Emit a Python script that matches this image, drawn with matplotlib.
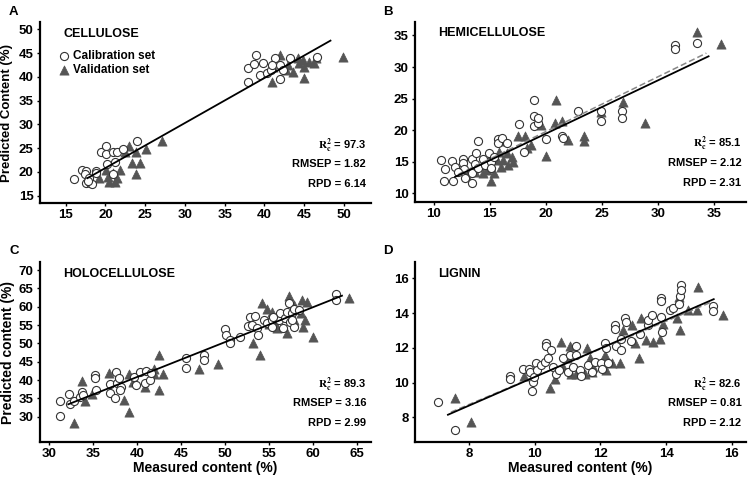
import matplotlib
matplotlib.use('Agg')
import matplotlib.pyplot as plt

plt.rcParams['font.family'] = ['Liberation Sans', 'DejaVu Sans']
plt.rcParams['font.weight'] = 'bold'
plt.rcParams['mathtext.fontset'] = 'stix'

# A - cellulose
cel_cal_x = [16.05, 17.0, 17.5, 17.4, 17.5, 18.1, 18.3, 17.9, 18.8, 19.4, 20.1, 20.1, 20.9, 21.4, 22.2,
             24.0, 20.2, 21.2, 20.9, 18.8, 17.8,
             37.9, 37.9, 38.9, 38.7, 39.8, 39.5, 40.3, 40.8, 41.3, 41.9, 42.0, 43.2, 42.3, 46.6, 41.0]
cel_cal_y = [18.5, 20.4, 20.3, 19.5, 17.6, 17.7, 17.4, 18.7, 20.1, 24.1, 25.5, 23.8, 24.1, 24.1, 24.8,
             26.4, 21.7, 22.0, 19.5, 19.7, 18.0,
             38.8, 41.9, 44.6, 42.6, 42.8, 40.4, 40.7, 41.4, 43.9, 42.5, 39.5, 43.9, 41.4, 44.2, 42.5]
cel_val_x = [19.2, 20.3, 20.4, 21.2, 21.0, 21.8, 23.3, 24.4, 23.9, 23.0, 22.5, 23.9, 25.1, 27.1, 20.1, 21.4,
             41.0, 41.1, 42.0, 42.7, 43.6, 43.0, 44.2, 44.8, 45.0, 45.0, 45.6, 46.2, 46.5, 49.9, 44.4]
cel_val_y = [18.7, 19.0, 17.8, 17.8, 19.7, 20.4, 21.8, 21.8, 19.6, 25.5, 24.2, 24.2, 24.9, 26.4, 20.4, 18.7,
             39.0, 42.1, 44.6, 41.4, 41.1, 42.5, 43.9, 43.5, 42.1, 39.7, 43.2, 42.8, 44.0, 44.2, 42.8]
cel_fit_x = [17.75, 48.3]
cel_fit_y = [18.7, 47.6]

# B - hemicellulose
hem_cal_x = [10.6, 11.0, 10.9, 11.6, 11.7, 11.9, 12.6, 12.6, 12.7, 12.8, 13.4, 13.4, 13.4, 13.7, 13.8,
             13.9, 13.9, 14.4, 14.6, 14.9, 15.1, 15.7, 15.7, 16.1, 16.5, 17.6, 18.0, 18.9, 18.9, 18.9,
             19.3, 19.3, 20.0, 21.4, 21.5, 22.9, 24.9, 24.9, 26.8, 26.8, 31.5, 31.5, 33.5, 15.1, 12.2, 15.4]
hem_cal_y = [15.3, 13.8, 12.0, 15.1, 12.0, 14.1, 15.5, 14.8, 13.8, 12.4, 15.5, 13.2, 11.6, 14.6, 16.3,
             18.2, 14.0, 15.5, 14.5, 16.3, 15.0, 18.6, 17.9, 18.7, 18.0, 21.0, 16.6, 24.8, 22.2, 20.6,
             21.1, 21.9, 18.6, 19.1, 18.7, 23.1, 23.0, 21.5, 23.0, 21.9, 33.5, 32.8, 33.8, 14.0, 13.4, 15.8]
hem_val_x = [13.0, 13.7, 14.4, 14.6, 14.7, 15.1, 15.4, 15.6, 15.8, 15.9, 16.0, 16.2, 16.6, 17.0, 17.1,
             17.5, 18.1, 18.3, 18.7, 19.6, 20.0, 20.8, 20.9, 21.4, 22.0, 23.4, 23.4, 24.9, 26.9, 28.8,
             33.5, 35.6, 15.0, 16.5]
hem_val_y = [12.8, 13.4, 13.2, 14.5, 13.7, 11.9, 13.2, 15.3, 16.6, 18.3, 14.2, 15.3, 14.5, 15.8, 15.0,
             19.0, 19.0, 17.1, 17.7, 20.8, 15.9, 21.1, 24.8, 21.4, 18.5, 19.0, 18.2, 22.9, 24.5, 21.2,
             35.6, 33.7, 15.8, 16.3]
hem_fit_x = [11.9, 34.5]
hem_fit_y = [12.6, 31.7]
hem_fit2_x = [12.2, 34.3]
hem_fit2_y = [13.0, 32.2]

# C - holocellulose
hol_cal_x = [31.3, 31.3, 32.3, 32.4, 32.8, 33.5, 33.8, 33.9, 35.2, 35.2, 35.4, 36.9, 36.9, 37.5, 37.6,
             37.7, 38.0, 38.2, 38.1, 39.7, 39.9, 40.4, 41.0, 40.9, 41.5, 41.6, 45.6, 45.6, 47.6, 47.6,
             50.0, 50.1, 50.6, 50.6, 51.7, 52.6, 52.8, 53.1, 53.4, 53.6, 53.8, 54.4, 54.8, 55.3, 55.4,
             56.1, 56.3, 56.6, 56.8, 57.0, 57.3, 57.4, 57.6, 57.8, 57.9, 58.4, 62.6, 62.6, 57.6, 55.5]
hol_cal_y = [34.3, 30.3, 36.2, 33.6, 34.4, 35.5, 36.8, 35.9, 41.4, 40.5, 37.3, 38.9, 36.5, 35.0, 42.3,
             39.1, 40.5, 38.2, 37.3, 40.9, 38.6, 42.3, 42.5, 39.1, 40.0, 41.8, 45.9, 43.2, 46.8, 45.6,
             53.8, 52.3, 50.9, 50.0, 51.8, 54.7, 57.3, 55.0, 57.5, 54.1, 52.3, 56.5, 55.6, 56.5, 54.5,
             56.4, 58.2, 54.1, 56.8, 58.6, 60.9, 55.9, 58.2, 59.5, 54.5, 59.1, 63.5, 61.8, 56.5, 57.3]
hol_val_x = [32.8, 33.8, 34.1, 34.9, 36.8, 38.5, 39.1, 39.1, 39.6, 40.9, 41.9, 41.9, 42.5, 42.5, 43.0,
             47.1, 49.2, 53.2, 54.0, 54.2, 54.8, 55.2, 55.4, 55.6, 55.9, 57.0, 57.3, 57.8, 57.9, 58.6,
             58.8, 58.9, 59.3, 59.1, 60.0, 64.1, 55.0]
hol_val_y = [28.4, 39.8, 34.4, 36.2, 41.8, 34.5, 31.4, 41.6, 39.5, 38.0, 41.6, 42.9, 46.8, 37.3, 41.6,
             42.9, 44.4, 50.2, 46.8, 61.1, 59.5, 57.1, 58.6, 55.9, 54.1, 52.7, 62.9, 60.5, 56.4, 58.2,
             61.8, 54.5, 61.4, 56.5, 51.8, 62.5, 55.2]
hol_fit_x = [32.2, 63.3]
hol_fit_y = [33.4, 63.0]

# D - lignin
lig_cal_x = [7.05, 7.56, 9.24, 9.24, 9.63, 9.82, 9.85, 9.92, 9.95, 9.98, 10.05, 10.08, 10.2, 10.3, 10.33,
             10.36, 10.41, 10.51, 10.56, 10.66, 10.73, 10.87, 11.0, 11.07, 11.17, 11.27, 11.27, 11.37,
             11.63, 11.73, 11.83, 12.03, 12.05, 12.13, 12.18, 12.44, 12.46, 12.49, 12.62, 12.64, 12.75,
             12.77, 12.93, 13.2, 13.44, 13.44, 13.56, 13.84, 13.84, 13.84, 13.88, 14.12, 14.22, 14.39,
             14.42, 14.45, 14.45, 15.44, 15.44, 12.24, 11.42]
lig_cal_y = [8.9, 7.3, 10.4, 10.2, 10.8, 10.8, 10.6, 9.5, 10.05, 10.3, 11.1, 10.7, 11.0, 11.2, 12.3,
             12.1, 11.4, 11.9, 10.9, 10.5, 10.7, 11.4, 10.6, 11.6, 10.9, 12.1, 11.6, 10.7,
             11.0, 10.6, 11.2, 11.1, 10.8, 12.3, 12.0, 13.3, 13.1, 12.1, 12.5, 11.9, 13.7,
             13.5, 12.4, 12.8, 13.3, 13.6, 13.9, 14.85, 14.7, 13.8, 12.9, 14.2, 14.3, 14.5,
             15.0, 15.6, 15.3, 14.4, 14.1, 11.1, 10.4]
lig_val_x = [7.56, 8.07, 9.68, 10.46, 10.61, 10.79, 10.87, 10.97, 11.07, 11.12, 11.27, 11.53, 11.6, 11.68,
             11.78, 12.13, 12.16, 12.34, 12.59, 12.7, 12.95, 13.05, 13.17, 13.25, 13.4, 13.61, 13.81,
             13.91, 14.32, 14.39, 14.42, 14.68, 14.93, 14.98, 15.74, 11.73]
lig_val_y = [9.1, 7.75, 10.4, 9.7, 10.2, 12.35, 10.9, 11.4, 12.1, 10.5, 10.5, 10.5, 12.0, 11.4,
             10.9, 11.6, 10.7, 11.1, 11.1, 13.0, 13.3, 12.3, 11.4, 13.7, 12.45, 12.35, 12.5,
             13.4, 13.7, 14.9, 13.0, 14.2, 14.2, 15.5, 13.9, 10.6]
lig_fit_x = [7.36, 15.45]
lig_fit_y = [8.15, 14.8]
lig_fit2_x = [7.45, 15.4]
lig_fit2_y = [8.3, 14.65]

stats = {
    'A': ('97.3', '1.82', '6.14'),
    'B': ('85.1', '2.12', '2.31'),
    'C': ('89.3', '3.16', '2.99'),
    'D': ('82.6', '0.81', '2.12'),
}

fig = plt.figure(figsize=(7.5, 4.8), dpi=100)
axA = fig.add_axes([0.0533, 0.577, 0.4414, 0.377])
axB = fig.add_axes([0.553, 0.580, 0.442, 0.375])
axC = fig.add_axes([0.0533, 0.0798, 0.4414, 0.3737])
axD = fig.add_axes([0.553, 0.0798, 0.442, 0.3737])


def panel(ax, key, title, cx, cy, vx, vy, fx, fy, xlim, ylim, xticks, yticks, f2x=None, f2y=None):
    ax.scatter(vx, vy, marker='^', s=44, color='#555555', edgecolors='#555555', linewidths=0.5,
               label='Validation set', zorder=2)
    ax.scatter(cx, cy, marker='o', s=34, facecolors='white', edgecolors='#333333', linewidths=0.8,
               label='Calibration set', zorder=3)
    if f2x is not None:
        ax.plot(f2x, f2y, color='#888888', lw=1.1, ls=(0, (4, 2)), zorder=4)
    ax.plot(fx, fy, color='black', lw=1.3, zorder=5)
    ax.set_xlim(*xlim)
    ax.set_ylim(*ylim)
    ax.set_xticks(xticks)
    ax.set_yticks(yticks)
    for s in ['top', 'right']:
        ax.spines[s].set_visible(False)
    for s in ['left', 'bottom']:
        ax.spines[s].set_linewidth(1.6)
    ax.tick_params(labelsize=9.5, length=2.5, width=1, pad=2)
    ax.text(0.07, 0.935, title, transform=ax.transAxes, fontsize=9, fontweight='bold', va='center')
    r2, rmsep, rpd = stats[key]
    ax.text(0.985, 0.318, r'$\mathrm{R}_\mathrm{c}^2$' + ' = ' + r2, transform=ax.transAxes,
            ha='right', va='center', fontsize=8)
    ax.text(0.985, 0.213, 'RMSEP = ' + rmsep, transform=ax.transAxes, ha='right', va='center', fontsize=8)
    ax.text(0.985, 0.106, 'RPD = ' + rpd, transform=ax.transAxes, ha='right', va='center', fontsize=8)


panel(axA, 'A', 'CELLULOSE', cel_cal_x, cel_cal_y, cel_val_x, cel_val_y, cel_fit_x, cel_fit_y,
      (11.77, 53.4), (13.46, 51.5), range(15, 51, 5), range(15, 51, 5))
panel(axB, 'B', 'HEMICELLULOSE', hem_cal_x, hem_cal_y, hem_val_x, hem_val_y, hem_fit_x, hem_fit_y,
      (8.3, 37.86), (8.67, 37.2), range(10, 36, 5), range(10, 36, 5), hem_fit2_x, hem_fit2_y)
panel(axC, 'C', 'HOLOCELLULOSE', hol_cal_x, hol_cal_y, hol_val_x, hol_val_y, hol_fit_x, hol_fit_y,
      (28.98, 66.6), (23.2, 72.1), range(30, 66, 5), range(30, 71, 5))
panel(axD, 'D', 'LIGNIN', lig_cal_x, lig_cal_y, lig_val_x, lig_val_y, lig_fit_x, lig_fit_y,
      (6.35, 16.44), (6.6, 16.92), range(8, 17, 2), range(8, 17, 2), lig_fit2_x, lig_fit2_y)

h, l = axA.get_legend_handles_labels()
axA.legend(h[::-1], l[::-1], loc='upper left', bbox_to_anchor=(0.045, 0.87), frameon=False,
           borderaxespad=0, handlelength=0.8, handletextpad=0.35, labelspacing=0.15,
           prop={'weight': 'bold', 'size': 8.5})

axA.set_ylabel('Predicted Content (%)', fontsize=9.5, fontweight='bold', labelpad=4)
axC.set_ylabel('Predicted content (%)', fontsize=10, fontweight='bold', labelpad=3)
axC.set_xlabel('Measured content (%)', fontsize=10, fontweight='bold', labelpad=1)
axD.set_xlabel('Measured content (%)', fontsize=10, fontweight='bold', labelpad=1)

for lbl, x, y in [('A', 0.012, 0.976), ('B', 0.511, 0.976), ('C', 0.012, 0.478), ('D', 0.511, 0.478)]:
    fig.text(x, y, lbl, fontsize=9.5, fontweight='bold', va='center')

fig.savefig('out.png', dpi=100)
